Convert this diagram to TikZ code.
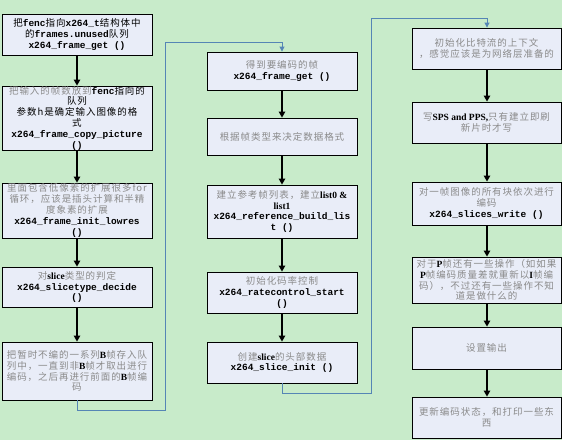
\documentclass[tikz,border=0pt]{standalone}
\usepackage{fontspec}
\setmainfont[LetterSpace=10]{Noto Sans CJK SC}
\newfontfamily\codefont[BoldFont=* Bold]{Liberation Mono}
\newfontfamily\serifb[BoldFont=* Bold]{Liberation Serif}
\usetikzlibrary{arrows.meta}
\definecolor{bg}{HTML}{C8EBCA}
\definecolor{boxfill}{HTML}{E9EDF8}
\definecolor{txtgrey}{HTML}{8A8A8A}
\definecolor{linkblue}{HTML}{5585B5}
\newcommand\Cd[1]{{\color{black}\codefont\bfseries #1}}
\newcommand\Lb[1]{{\color{black}\serifb\bfseries #1}}
\newcommand\Bk[1]{{\color{black}#1}}
\tikzset{
  flowbox/.style={draw=black, fill=boxfill, line width=0.9pt, minimum width=150pt,
    align=center, inner sep=0pt, text=txtgrey,
    font=\fontsize{9.5}{10.8}\selectfont},
  flowarrow/.style={draw=black, line width=1.1pt, -{Triangle[length=6pt,width=6.5pt]}},
  linkline/.style={draw=linkblue, line width=0.9pt, -{Triangle[length=5pt,width=5pt]}}
}
\begin{document}
\begin{tikzpicture}[x=1pt,y=-1pt]
\fill[bg] (0,0) rectangle (562,440);
\useasboundingbox (0,0) rectangle (562,440);
% left column
\node[flowbox, minimum height=41pt] (L1) at (77,34.5)
  {\Bk{把\Cd{fenc}指向\Cd{x264\_t}结构体中}\\\Bk{的\Cd{frames.unused}队列}\\\Cd{x264\_frame\_get ()}};
\node[flowbox, minimum height=64pt] (L2) at (77,118)
  {把输入的帧数放到\Cd{fenc}\Bk{指向的}\\\Bk{队列}\\\Bk{参数h是确定输入图像的格}\\\Bk{式}\\\Cd{x264\_frame\_copy\_picture}\\\Cd{()}};
\node[flowbox, minimum height=55pt] (L3) at (77,210.5)
  {里面包含低像素的扩展很多for\\循环，应该是插头计算和半精\\度象素的扩展\\\Cd{x264\_frame\_init\_lowres}\\\Cd{()}};
\node[flowbox, minimum height=40pt] (L4) at (77,287)
  {对\Lb{slice}类型的判定\\\Cd{x264\_slicetype\_decide}\\\Cd{()}};
\node[flowbox, minimum height=58pt] (L5) at (77,371)
  {把暂时不编的一系列\Lb{B}帧存入队\\列中，一直到非\Lb{B}帧才取出进行\\编码，之后再进行前面的\Lb{B}帧编\\码};
% middle column
\node[flowbox, minimum height=38pt] (M1) at (282,71)
  {得到要编码的帧\\\Cd{x264\_frame\_get ()}};
\node[flowbox, minimum height=37pt] (M2) at (282,136.5)
  {根据帧类型来决定数据格式};
\node[flowbox, minimum height=53pt] (M3) at (282,211.5)
  {建立参考帧列表，建立\Lb{list0 \&}\\\Lb{list1}\\\Cd{x264\_reference\_build\_lis}\\\Cd{t ()}};
\node[flowbox, minimum height=41pt] (M4) at (282,292.5)
  {初始化码率控制\\\Cd{x264\_ratecontrol\_start}\\\Cd{()}};
\node[flowbox, minimum height=41pt] (M5) at (282,362.5)
  {创建\Lb{slice}的头部数据\\\Cd{x264\_slice\_init ()}};
% right column
\node[flowbox, minimum width=149pt, minimum height=41pt] (R1) at (486.5,48.5)
  {初始化比特流的上下文\\，感觉应该是为网络层准备的};
\node[flowbox, minimum width=149pt, minimum height=41pt] (R2) at (486.5,122.5)
  {写\Lb{SPS and PPS,}只有建立即刷\\新片时才写};
\node[flowbox, minimum width=149pt, minimum height=43pt] (R3) at (486.5,203.5)
  {对一帧图像的所有块依次进行\\编码\\\Cd{x264\_slices\_write ()}};
\node[flowbox, minimum width=149pt, minimum height=46pt] (R4) at (486.5,280)
  {对于\Lb{P}帧还有一些操作（如如果\\\Lb{P}帧编码质量差就重新以\Lb{I}帧编\\码），不过还有一些操作不知\\道是做什么的};
\node[flowbox, minimum width=149pt, minimum height=42pt] (R5) at (486.5,348)
  {设置输出};
\node[flowbox, minimum width=149pt, minimum height=41pt] (R6) at (486.5,417.5)
  {更新编码状态，和打印一些东\\西};
% arrows in columns
\draw[flowarrow] (L1) -- (L2);
\draw[flowarrow] (L2) -- (L3);
\draw[flowarrow] (L3) -- (L4);
\draw[flowarrow] (L4) -- (L5);
\draw[flowarrow] (M1) -- (M2);
\draw[flowarrow] (M2) -- (M3);
\draw[flowarrow] (M3) -- (M4);
\draw[flowarrow] (M4) -- (M5);
\draw[flowarrow] (R1.south -| 487,0) -- (R2.north -| 487,0);
\draw[flowarrow] (R2.south -| 487,0) -- (R3.north -| 487,0);
\draw[flowarrow] (R3.south -| 487,0) -- (R4.north -| 487,0);
\draw[flowarrow] (R4.south -| 487,0) -- (R5.north -| 487,0);
\draw[flowarrow] (R5.south -| 487,0) -- (R6.north -| 487,0);
% links between columns
\coordinate (a1) at (77,410);
\coordinate (a2) at (165,410);
\coordinate (a3) at (165,42);
\coordinate (a4) at (282,42);
\draw[linkline] (L5.south) -- (a1) -- (a2) -- (a3) -- (a4) -- (M1.north);
\coordinate (b1) at (282,393);
\coordinate (b2) at (371,393);
\coordinate (b3) at (371,18);
\coordinate (b4) at (487,18);
\draw[linkline] (M5.south) -- (b1) -- (b2) -- (b3) -- (b4) -- (R1.north -| b4);
\end{tikzpicture}
\end{document}
